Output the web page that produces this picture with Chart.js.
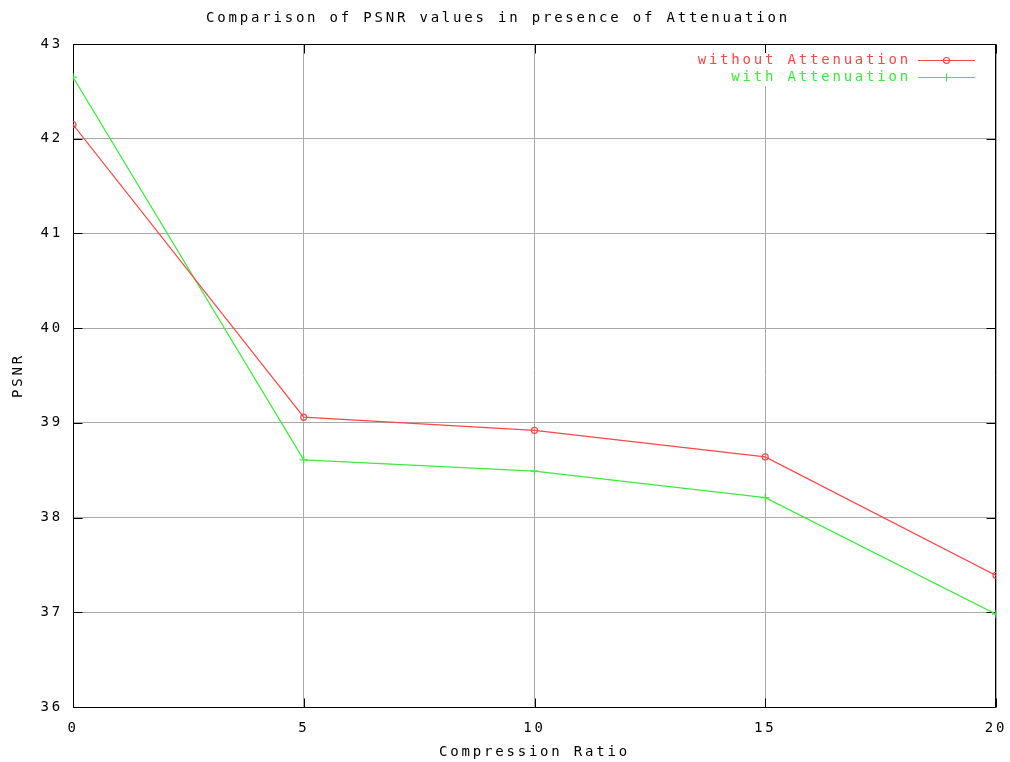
<!DOCTYPE html>
<html>
<head>
<meta charset="utf-8">
<script src="https://cdn.jsdelivr.net/npm/chart.js@4.4.1/dist/chart.umd.min.js"></script>
<style>
  html, body { margin: 0; padding: 0; background: #fff; }
  #wrap { width: 1010px; height: 762px; }
</style>
</head>
<body>
<div id="wrap"><canvas id="psnrChart" width="1010" height="762"></canvas></div>
<script>
// compression ratio on the x axis
const ratios = [0, 5, 10, 15, 20];
// PSNR values
const psnrWithout = [42.15, 39.06, 38.92, 38.64, 37.39];
const psnrWith = [42.65, 38.61, 38.49, 38.21, 36.98];
const seriesNames = ['without Attenuation', 'with Attenuation'];
const xTicks = [0, 5, 10, 15, 20];
const yTicks = [36, 37, 38, 39, 40, 41, 42, 43];

const RED = 'rgb(255,70,70)';
const GREEN = 'rgb(60,235,60)';
const FONT = "'DejaVu Sans Mono', monospace";
const SPACING = '2.8px';

Chart.defaults.font.family = FONT;
Chart.defaults.font.size = 14;
Chart.defaults.color = '#000';

const toPoints = vals => ratios.map((r, i) => ({ x: r, y: vals[i] }));

// gnuplot-ish wide character pitch
const spacing = {
  id: 'spacing',
  beforeUpdate(chart) { chart.ctx.letterSpacing = SPACING; },
  beforeDraw(chart) { chart.ctx.letterSpacing = SPACING; }
};

// full frame + inward tick marks on all four sides
const frame = {
  id: 'frame',
  beforeDatasetsDraw(chart) {
    const { ctx, chartArea: a, scales: { x, y } } = chart;
    const L = Math.round(a.left) + 0.5, R = Math.round(a.right) - 0.5;
    const T = Math.round(a.top) + 0.5, B = Math.round(a.bottom) + 0.5;
    ctx.save();
    ctx.strokeStyle = '#000';
    ctx.lineWidth = 1;
    ctx.beginPath();
    ctx.rect(L, T, R - L, B - T);
    yTicks.forEach(v => {
      const p = Math.round(y.getPixelForValue(v)) + 0.5;
      ctx.moveTo(L, p); ctx.lineTo(L + 9, p);
      ctx.moveTo(R, p); ctx.lineTo(R - 9, p);
    });
    xTicks.forEach(v => {
      const p = Math.round(x.getPixelForValue(v)) + 0.5;
      ctx.moveTo(p, B); ctx.lineTo(p, B - 9);
      ctx.moveTo(p, T); ctx.lineTo(p, T + 9);
    });
    ctx.stroke();
    ctx.restore();
  }
};

// legend inside the top right corner, text first then the line sample
const keyBox = {
  id: 'keyBox',
  afterDatasetsDraw(chart) {
    const ctx = chart.ctx;
    ctx.save();
    ctx.fillStyle = '#fff';
    ctx.fillRect(690, 53, 295, 33);
    ctx.letterSpacing = SPACING;
    ctx.font = '14px ' + FONT;
    ctx.textAlign = 'right';
    ctx.textBaseline = 'middle';
    chart.data.datasets.forEach((ds, i) => {
      const yy = 60.5 + i * 17;
      ctx.fillStyle = ds.borderColor;
      ctx.fillText(ds.label, 911, yy);
      ctx.strokeStyle = ds.borderColor;
      ctx.lineWidth = 1.2;
      ctx.beginPath();
      ctx.moveTo(918, yy);
      ctx.lineTo(975, yy);
      ctx.stroke();
      ctx.fillStyle = 'rgba(0,0,0,0)';
      Chart.helpers.drawPoint(ctx, {
        pointStyle: ds.pointStyle, radius: ds.pointRadius, borderWidth: 1.2, rotation: 0
      }, 946.5, yy);
    });
    ctx.restore();
  }
};

new Chart(document.getElementById('psnrChart'), {
  type: 'line',
  data: {
    datasets: [
      {
        label: seriesNames[0],
        data: toPoints(psnrWithout),
        borderColor: RED,
        backgroundColor: RED,
        borderWidth: 1.2,
        pointStyle: 'circle',
        pointRadius: 3,
        pointBorderColor: RED,
        pointBackgroundColor: 'rgba(0,0,0,0)',
        pointBorderWidth: 1.2,
        tension: 0
      },
      {
        label: seriesNames[1],
        data: toPoints(psnrWith),
        borderColor: GREEN,
        backgroundColor: GREEN,
        borderWidth: 1.2,
        pointStyle: 'cross',
        pointRadius: 4,
        pointBorderColor: GREEN,
        pointBorderWidth: 1.2,
        tension: 0
      }
    ]
  },
  options: {
    responsive: false,
    animation: false,
    layout: { padding: { left: 0, right: 14, top: 0, bottom: 0 } },
    plugins: {
      legend: { display: false },
      tooltip: { enabled: false },
      title: {
        display: true,
        text: 'Comparison of PSNR values in presence of Attenuation',
        font: { size: 14, weight: 'normal' },
        color: '#000',
        padding: { top: 10, bottom: 17.2 }
      }
    },
    scales: {
      x: {
        type: 'linear',
        min: 0,
        max: 20,
        afterBuildTicks: s => { s.ticks = xTicks.map(v => ({ value: v })); },
        afterFit: s => { s.height = 55; s.paddingLeft = 0; s.paddingRight = 0; },
        grid: { color: '#aaaaaa', lineWidth: 1, drawTicks: false },
        border: { display: false },
        ticks: { padding: 13, maxRotation: 0, color: '#000' },
        title: {
          display: true,
          text: 'Compression Ratio',
          color: '#000',
          font: { size: 14 },
          padding: { top: 0, bottom: 1 }
        }
      },
      y: {
        min: 36,
        max: 43,
        afterBuildTicks: s => { s.ticks = yTicks.map(v => ({ value: v })); },
        afterFit: s => { s.width = 73; },
        grid: { color: '#aaaaaa', lineWidth: 1, drawTicks: false },
        border: { display: false },
        ticks: { padding: 10, color: '#000' },
        title: {
          display: true,
          text: 'PSNR',
          color: '#000',
          font: { size: 14 },
          padding: { top: 10, bottom: 0 }
        }
      }
    }
  },
  plugins: [spacing, frame, keyBox]
});
</script>
</body>
</html>
